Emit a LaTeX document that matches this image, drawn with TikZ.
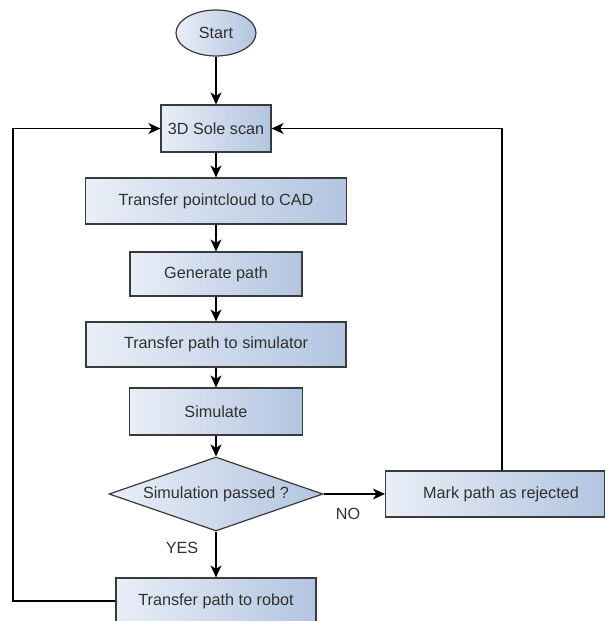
\documentclass[tikz,border=0pt]{standalone}
\usepackage{fontspec}
\setmainfont{Liberation Sans}
\usetikzlibrary{shapes.geometric,arrows.meta}

\definecolor{boxleft}{HTML}{E9EEF7}
\definecolor{boxright}{HTML}{B2C5E0}
\definecolor{boxline}{HTML}{3A3A3A}
\definecolor{boxtext}{HTML}{303030}

\tikzset{
  stepbox/.style={draw=boxline, line width=1.2pt, left color=boxleft, right color=boxright,
    text=boxtext, inner sep=0pt, font=\fontsize{16.2}{19}\selectfont},
  startbox/.style={stepbox, ellipse},
  testbox/.style={stepbox, diamond, aspect=2.9},
  lbl/.style={text=boxtext, font=\fontsize{16.2}{19}\selectfont},
  arr/.style={-{Stealth[length=12pt,width=11pt,inset=3.5pt]}, line width=1.2pt, draw=black}
}

\begin{document}
\begin{tikzpicture}[x=1pt,y=-1pt]
                \useasboundingbox (0,0) rectangle (608,621);
                \clip (0,0) rectangle (608,621);

                % Steps
                \node[startbox, minimum width=80pt, minimum height=46pt] (start) at (216,33) {Start};
                \node[stepbox, minimum width=110pt, minimum height=47pt] (scan) at (216,128.5) {3D Sole scan};
                \node[stepbox, minimum width=261pt, minimum height=46pt] (cad) at (216,201) {Transfer pointcloud to CAD};
                \node[stepbox, minimum width=172pt, minimum height=44pt] (gen) at (216,274) {Generate path};
                \node[stepbox, minimum width=260pt, minimum height=45pt] (tosim) at (216,344.5) {Transfer path to simulator};
                \node[stepbox, minimum width=173pt, minimum height=47pt] (sim) at (216,411.5) {Simulate};
                \node[testbox, minimum width=214pt, minimum height=74pt] (pass) at (216,494) {Simulation passed ?};
                \node[stepbox, minimum width=219pt, minimum height=46pt] (reject) at (495,494) {\hspace{12pt}Mark path as rejected};
                \node[stepbox, minimum width=200pt, minimum height=46pt] (robot) at (216,601) {Transfer path to robot};

                % Main flow
                \draw[arr] (start) -- (scan);
                \draw[arr] (scan) -- (cad);
                \draw[arr] (cad) -- (gen);
                \draw[arr] (gen) -- (tosim);
                \draw[arr] (tosim) -- (sim);
                \draw[arr] (sim) -- (pass);
                \draw[arr] (pass) -- (robot);
                \draw[arr] (pass) -- (reject);

                % Answers
                \node[lbl] (yes) at (182,548) {YES};
                \node[lbl] (no) at (348,514) {NO};

                % Loops back to the scan
                \coordinate (back) at (13,601);
                \draw[arr] (robot.west) -- (back) |- (scan.west);
                \draw[arr] ([xshift=7pt]reject.north) |- (scan.east);
              \end{tikzpicture}
\end{document}
